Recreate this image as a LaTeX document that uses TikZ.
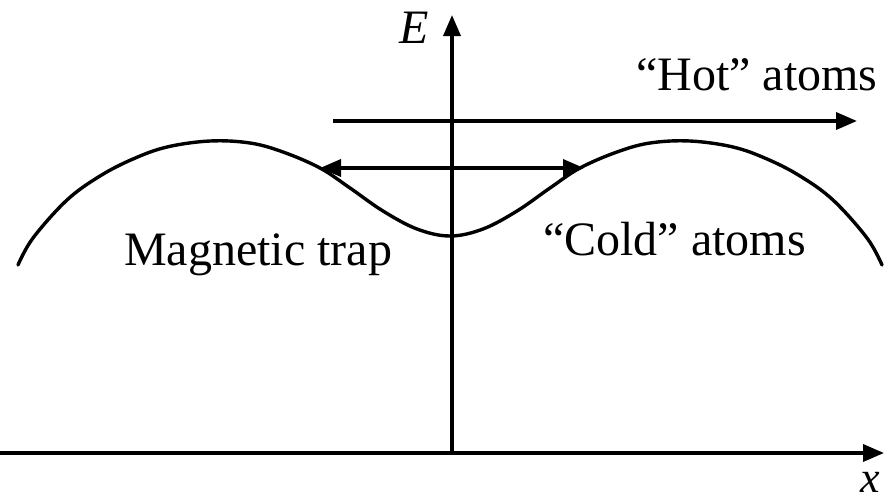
\documentclass[tikz,border=0pt]{standalone}
\usepackage{fontspec}
\setmainfont{Liberation Serif}
\usetikzlibrary{arrows.meta}
\begin{document}
\begin{tikzpicture}[x=1pt,y=-1pt,
  ln/.style={line width=3.6pt},
  arr/.style={ln,-{Triangle[length=21pt,width=17pt]}},
  darr/.style={ln,{Triangle[length=21pt,width=17pt]}-{Triangle[length=21pt,width=17pt]}},
  lbl/.style={inner sep=0pt,anchor=base west,font=\fontsize{48}{56}\selectfont}]
\useasboundingbox (0,0) rectangle (895,501);
% axes
\coordinate (xs) at (0,453);
\coordinate (xe) at (884,453);
\coordinate (o) at (452,453);
\coordinate (et) at (452,15);
\draw[arr] (xs) -- (xe);
\draw[arr] (o) -- (et);
% hot atoms arrow
\coordinate (h1) at (333,121);
\coordinate (h2) at (857,121);
\draw[arr] (h1) -- (h2);
% cold atoms arrow
\coordinate (c1) at (320,168);
\coordinate (c2) at (584,168);
\draw[darr] (c1) -- (c2);
% potential curve
\draw[line width=3.4pt,line cap=round] plot[smooth,tension=0.6] coordinates {
 (18,265) (33,238) (67,200) (100,176) (133,159) (167,147) (210,141) (250,143)
 (283,152) (320,168) (350,188) (383,211) (417,229) (450,236)
 (483,229) (517,211) (550,188) (580,168) (617,152) (650,143) (690,141)
 (733,147) (767,159) (800,176) (833,200) (867,238) (882,265)};
% labels
\node[lbl] (E) at (399,43) {\textit{E}};
\node[lbl,font=\fontsize{44}{52}\selectfont] (X) at (860,492) {\textit{x}};
\node[lbl] (hot) at (636,90) {“Hot” atoms};
\node[lbl] (cold) at (543,255) {“Cold” atoms};
\node[lbl] (trap) at (124,265) {Magnetic trap};
\end{tikzpicture}
\end{document}
